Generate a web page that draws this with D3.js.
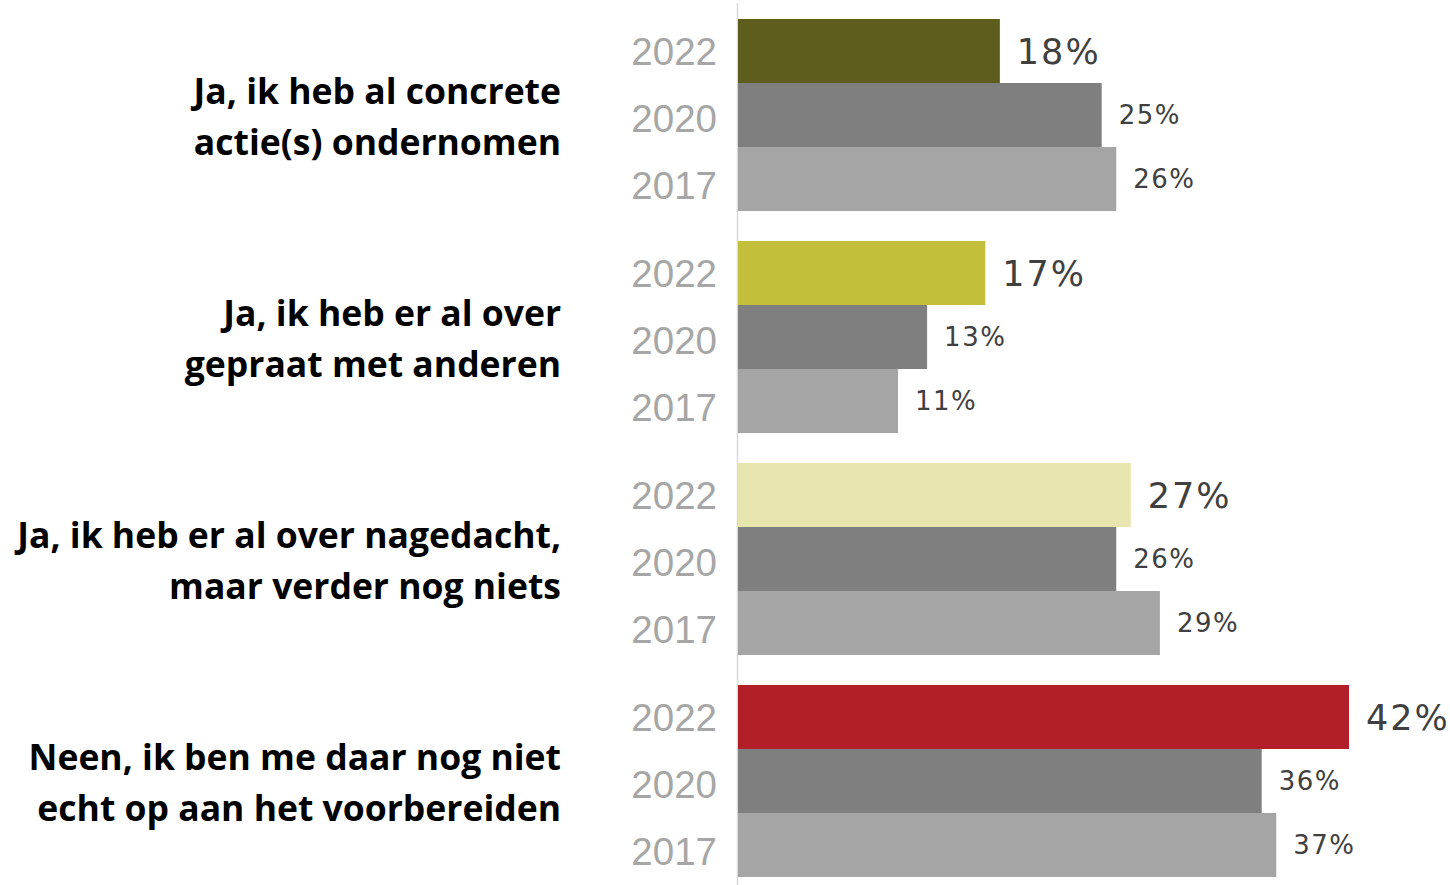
<!DOCTYPE html>
<html>
<head>
<meta charset="utf-8">
<script src="https://cdn.jsdelivr.net/npm/d3@7"></script>
<style>
  body { margin: 0; background: #fff; }
  svg { display: block; }
</style>
</head>
<body>
<div class="chart"></div>
<script>
// ======= GROUPED HORIZONTAL BARS ===========

const categories = [
  ['Ja, ik heb al concrete', 'actie(s) ondernomen'],
  ['Ja, ik heb er al over', 'gepraat met anderen'],
  ['Ja, ik heb er al over nagedacht,', 'maar verder nog niets'],
  ['Neen, ik ben me daar nog niet', 'echt op aan het voorbereiden']
]
const years = ['2022', '2020', '2017']
const values2022 = [18, 17, 27, 42]
const values2020 = [25, 13, 26, 36]
const values2017 = [26, 11, 29, 37]
const colors2022 = ['#5f5d1e', '#c3bf3a', '#e8e6ae', '#b31f28']

const width = 1450
const height = 885

const data = categories.map((c, i) => ({
  label: c,
  bars: [
    { year: '2022', value: values2022[i], color: colors2022[i], big: true },
    { year: '2020', value: values2020[i], color: '#7f7f7f', big: false },
    { year: '2017', value: values2017[i], color: '#a5a5a5', big: false }
  ]
}))

const svg = d3.select('.chart')
  .append('svg')
    .attr('width', width)
    .attr('height', height)

const yScale = d3.scaleBand()
  .domain(d3.range(categories.length))
  .range([19, 877])
  .paddingInner(0.135)

const yInner = d3.scaleBand()
  .domain(years)
  .range([0, yScale.bandwidth()])

// year labels are spread a little wider than the bars
const yLabel = d3.scalePoint()
  .domain(years)
  .range([-67, 67])

const xScale = d3.scaleLinear()
  .domain([0, 42])
  .range([738, 1349])

// axis line
svg.append('line')
  .attr('x1', 737.5).attr('x2', 737.5)
  .attr('y1', 3).attr('y2', height)
  .attr('stroke', '#dadada')
  .attr('stroke-width', 1.5)

const group = svg.selectAll('g.group')
  .data(data)
  .enter()
  .append('g')
    .attr('class', 'group')
    .attr('transform', (d, i) => `translate(0, ${yScale(i)})`)

group.selectAll('rect')
  .data(d => d.bars)
  .enter()
  .append('rect')
    .attr('x', xScale(0))
    .attr('y', d => yInner(d.year))
    .attr('width', d => xScale(d.value) - xScale(0))
    .attr('height', yInner.bandwidth())
    .attr('fill', d => d.color)

// year labels
group.selectAll('text.year')
  .data(d => d.bars)
  .enter()
  .append('text')
    .attr('class', 'year')
    .attr('x', 717)
    .attr('y', d => yScale.bandwidth() / 2 + 3 + yLabel(d.year))
    .attr('dy', '0.36em')
    .attr('text-anchor', 'end')
    .style('font-family', '"Liberation Sans", Arial, sans-serif')
    .style('font-size', '38.5px')
    .style('fill', '#a6a6a6')
    .text(d => d.year)

// value labels
group.selectAll('text.value')
  .data(d => d.bars)
  .enter()
  .append('text')
    .attr('class', 'value')
    .attr('x', d => xScale(d.value) + 17)
    .attr('y', d => yInner(d.year) + yInner.bandwidth() / 2)
    .attr('dy', '0.36em')
    .style('font-family', '"DejaVu Sans", sans-serif')
    .style('font-size', d => d.big ? '35px' : '26px')
    .style('letter-spacing', d => d.big ? '2px' : '1.5px')
    .style('fill', '#404040')
    .text(d => d.value + '%')

// category labels
group.append('text')
    .attr('class', 'cat')
    .attr('x', 561)
    .attr('y', yScale.bandwidth() / 2)
    .attr('text-anchor', 'end')
    .style('font-family', '"Open Sans", sans-serif')
    .style('font-weight', 700)
    .style('font-size', '35.5px')
    .style('fill', '#000')
  .selectAll('tspan')
  .data(d => d.label)
  .enter()
  .append('tspan')
    .attr('x', 561)
    .attr('dy', (d, i) => i === 0 ? '-0.3em' : '1.44em')
    .text(d => d)
</script>
</body>
</html>
